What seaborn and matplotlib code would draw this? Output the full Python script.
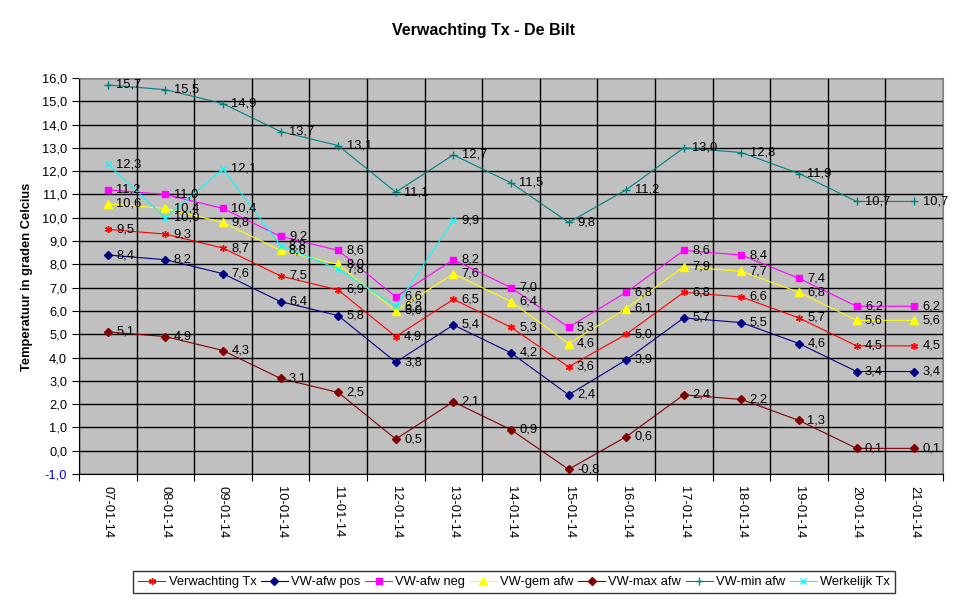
import numpy as np
import pandas as pd
import matplotlib
matplotlib.use("Agg")
import matplotlib.pyplot as plt
import seaborn as sns
from matplotlib.ticker import FuncFormatter

datums = ["07-01-14", "08-01-14", "09-01-14", "10-01-14", "11-01-14", "12-01-14", "13-01-14",
          "14-01-14", "15-01-14", "16-01-14", "17-01-14", "18-01-14", "19-01-14", "20-01-14", "21-01-14"]

verwachting_tx = [9.5, 9.3, 8.7, 7.5, 6.9, 4.9, 6.5, 5.3, 3.6, 5.0, 6.8, 6.6, 5.7, 4.5, 4.5]
vw_afw_pos = [8.4, 8.2, 7.6, 6.4, 5.8, 3.8, 5.4, 4.2, 2.4, 3.9, 5.7, 5.5, 4.6, 3.4, 3.4]
vw_afw_neg = [11.2, 11.0, 10.4, 9.2, 8.6, 6.6, 8.2, 7.0, 5.3, 6.8, 8.6, 8.4, 7.4, 6.2, 6.2]
vw_gem_afw = [10.6, 10.4, 9.8, 8.6, 8.0, 6.0, 7.6, 6.4, 4.6, 6.1, 7.9, 7.7, 6.8, 5.6, 5.6]
vw_max_afw = [5.1, 4.9, 4.3, 3.1, 2.5, 0.5, 2.1, 0.9, -0.8, 0.6, 2.4, 2.2, 1.3, 0.1, 0.1]
vw_min_afw = [15.7, 15.5, 14.9, 13.7, 13.1, 11.1, 12.7, 11.5, 9.8, 11.2, 13.0, 12.8, 11.9, 10.7, 10.7]
werkelijk_tx = [12.3, 10.0, 12.1, 8.8, 7.8, 6.2, 9.9] + [np.nan] * 8

reeksen = [
    ("Verwachting Tx", verwachting_tx, "#FF0000", (6, 2, 0), 5),
    ("VW-afw pos", vw_afw_pos, "#000080", "D", 4),
    ("VW-afw neg", vw_afw_neg, "#FF00FF", "s", 5),
    ("VW-gem afw", vw_gem_afw, "#FFFF00", "^", 6),
    ("VW-max afw", vw_max_afw, "#800000", "D", 4),
    ("VW-min afw", vw_min_afw, "#008080", "+", 6),
    ("Werkelijk Tx", werkelijk_tx, "#00FFFF", "x", 5),
]

plt.rcParams['font.family'] = ['Liberation Sans', 'DejaVu Sans']

fig = plt.figure(figsize=(9.69, 6.02), dpi=100)
ax = fig.add_axes([79 / 969, 128 / 602, 864 / 969, 396 / 602])
ax.set_facecolor("#C0C0C0")

x = np.arange(len(datums))
for naam, waarden, kleur, marker, ms in reeksen:
    df = pd.DataFrame({"x": x, "y": waarden}).dropna()
    sns.lineplot(data=df, x="x", y="y", ax=ax, color=kleur, marker=marker, markersize=ms,
                 markeredgecolor=kleur, markerfacecolor=kleur, markeredgewidth=1,
                 linewidth=0.8, label=naam, legend=False)
    for xi, yi in zip(df["x"], df["y"]):
        ax.annotate(f"{yi:.1f}".replace(".", ","), (xi, yi), xytext=(6, 0),
                    textcoords="offset points", va="center", ha="left", fontsize=9.3, color="black")

ax.set_xlim(-0.5, len(datums) - 0.5)
ax.set_ylim(-1, 16)
ax.set_yticks(np.arange(-1, 17, 1))
ax.yaxis.set_major_formatter(FuncFormatter(lambda v, p: f"{v:.1f}".replace(".", ",")))
for lab in ax.get_yticklabels():
    lab.set_fontsize(9.3)
ax.get_yticklabels()[0].set_color("#0000FF")

ax.set_xticks(np.arange(len(datums) + 1) - 0.5)
ax.set_xticklabels([])
ax.set_xticks(x, minor=True)
ax.set_xticklabels(datums, minor=True, rotation=270, fontsize=9.3)
ax.tick_params(axis="x", which="minor", length=0, pad=9)
ax.tick_params(axis="both", which="major", length=5, direction="out", color="black")
ax.grid(True, which="major", color="black", linewidth=1)
ax.set_axisbelow(True)
ax.set_xlabel("")
ax.set_ylabel("")

for s in ["top", "right"]:
    ax.spines[s].set_color("#808080")
for s in ["left", "bottom"]:
    ax.spines[s].set_color("black")

fig.text(484 / 969, 1 - 30 / 602, "Verwachting Tx - De Bilt", ha="center", va="center",
         fontsize=11.5, fontweight="bold")
fig.text(27 / 969, 1 - 277 / 602, "Temperatuur in graden Celcius", rotation=90,
         ha="center", va="center", fontsize=9.3, fontweight="bold")

handles, labels = ax.get_legend_handles_labels()
leg = fig.legend(handles, labels, loc="center", bbox_to_anchor=(514 / 969, 20 / 602), ncol=7,
                 fontsize=9.3, frameon=True, fancybox=False, edgecolor="black",
                 handlelength=2.1, handletextpad=0.25, columnspacing=0.35, borderpad=0.4)
leg.get_frame().set_linewidth(1)

fig.savefig("out.png", dpi=100)
